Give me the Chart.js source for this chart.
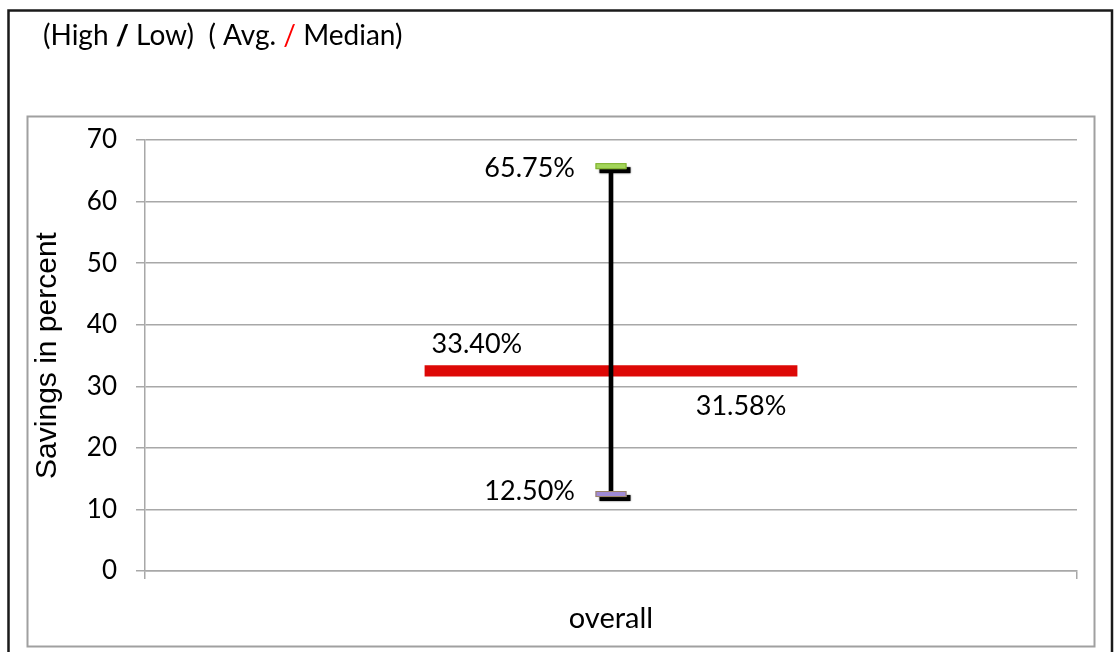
<!DOCTYPE html>
<html>
<head>
<meta charset="utf-8">
<script src="https://cdn.jsdelivr.net/npm/chart.js@4.4.1/dist/chart.umd.min.js"></script>
<style>
  html, body { margin: 0; padding: 0; background: #fff; }
  #wrap { position: relative; width: 1114px; height: 652px; }
</style>
</head>
<body>
<div id="wrap"><canvas id="chart" width="1114" height="652"></canvas></div>
<script>
const categories = ["overall"]
const highValues = [65.75]
const lowValues = [12.5]
const avgValues = [33.4]
const medianValues = [31.58]
const yTicks = [0, 10, 20, 30, 40, 50, 60, 70]

const FONT = "Lato"
const GRID = "#a8a8a8"

const fmt = (v) => v.toFixed(2) + "%"

// frame boxes and the two-colour heading
const framePlugin = {
  id: "frame",
  beforeDraw(chart) {
    const ctx = chart.ctx
    ctx.save()
    ctx.fillStyle = "#fff"
    ctx.fillRect(0, 0, chart.width, chart.height)
    ctx.strokeStyle = "#1a1a1a"
    ctx.lineWidth = 2.5
    ctx.strokeRect(8.5, 10.5, 1103.5, 700)
    ctx.strokeStyle = "#a0a0a0"
    ctx.lineWidth = 2
    ctx.strokeRect(27.5, 116.5, 1067, 530)

    const parts = [
      { t: "(High ", c: "#000", w: "normal" },
      { t: "/", c: "#000", w: "900" },
      { t: " Low)  ( Avg. ", c: "#000", w: "normal" },
      { t: "/", c: "#ff0000", w: "normal" },
      { t: " Median)", c: "#000", w: "normal" },
    ]
    let x = 43
    ctx.textBaseline = "alphabetic"
    ctx.textAlign = "left"
    parts.forEach((p) => {
      ctx.font = p.w + " 28px " + FONT
      ctx.fillStyle = p.c
      ctx.fillText(p.t, x, 45)
      x += ctx.measureText(p.t).width
    })
    ctx.restore()
  },
}

// high/low markers and the value labels
const markerPlugin = {
  id: "markers",
  afterDatasetsDraw(chart) {
    const ctx = chart.ctx
    const xs = chart.scales.x
    const ys = chart.scales.y
    const barMeta = chart.getDatasetMeta(1)
    ctx.save()
    categories.forEach((cat, i) => {
      const cx = xs.getPixelForValue(i)
      const yHigh = ys.getPixelForValue(highValues[i])
      const yLow = ys.getPixelForValue(lowValues[i])

      const drawMarker = (y, fill, edge) => {
        const w = 31, h = 6
        ctx.save()
        ctx.fillStyle = "#000"
        ctx.shadowColor = "rgba(0,0,0,0.6)"
        ctx.shadowBlur = 2
        ctx.fillRect(cx - w / 2 + 4, y - h / 2 + 4, w, h)
        ctx.restore()
        ctx.fillStyle = fill
        ctx.fillRect(cx - w / 2, y - h / 2, w, h)
        ctx.strokeStyle = edge
        ctx.lineWidth = 1
        ctx.strokeRect(cx - w / 2 + 0.5, y - h / 2 + 0.5, w - 1, h - 1)
      }
      drawMarker(yHigh, "#a3d55a", "#7fae2e")
      drawMarker(yLow, "#a08ad6", "#9c8463")

      ctx.font = "27px " + FONT
      ctx.fillStyle = "#000"
      ctx.textBaseline = "middle"
      ctx.textAlign = "right"
      ctx.fillText(fmt(highValues[i]), cx - 36, yHigh + 2)
      ctx.fillText(fmt(lowValues[i]), cx - 36, yLow - 3)

      const bar = barMeta.data[i]
      const left = bar.x - bar.width / 2
      const right = bar.x + bar.width / 2
      const yAvg = ys.getPixelForValue(avgValues[i])
      const yMed = ys.getPixelForValue(medianValues[i])
      ctx.textAlign = "left"
      ctx.fillText(fmt(avgValues[i]), left + 7, yAvg - 21)
      ctx.textAlign = "right"
      ctx.fillText(fmt(medianValues[i]), right - 11, yMed + 30)
    })
    ctx.restore()
  },
}

const ctx = document.getElementById("chart").getContext("2d")
new Chart(ctx, {
  type: "bar",
  data: {
    labels: categories,
    datasets: [
      {
        label: "High / Low",
        data: categories.map((c, i) => [lowValues[i], highValues[i]]),
        backgroundColor: "#000",
        barThickness: 4,
        grouped: false,
      },
      {
        label: "Avg. / Median",
        data: categories.map((c, i) => [medianValues[i], avgValues[i]]),
        backgroundColor: "#dd0806",
        barPercentage: 0.4,
        categoryPercentage: 1,
        grouped: false,
      },
    ],
  },
  options: {
    responsive: false,
    animation: false,
    layout: {
      padding: { top: 140, right: 37, left: 0, bottom: 0 },
    },
    plugins: {
      legend: { display: false },
      tooltip: { enabled: false },
    },
    scales: {
      x: {
        afterFit: (scale) => { scale.height = 81 },
        grid: {
          offset: true,
          drawOnChartArea: false,
          drawTicks: true,
          tickLength: 8,
          color: GRID,
          lineWidth: 1.5,
        },
        border: { color: GRID, width: 1.5 },
        ticks: {
          padding: 22,
          color: "#000",
          font: { family: FONT, size: 29 },
        },
      },
      y: {
        min: 0,
        max: 70,
        afterFit: (scale) => { scale.width = 145 },
        afterBuildTicks: (scale) => {
          scale.ticks = yTicks.map((v) => ({ value: v }))
        },
        grid: {
          color: GRID,
          lineWidth: 1.5,
          tickLength: 9,
        },
        border: { color: GRID, width: 1.5 },
        ticks: {
          padding: 19,
          color: "#000",
          font: { family: FONT, size: 26 },
        },
        title: {
          display: true,
          text: "Savings in percent",
          color: "#000",
          font: { family: "Liberation Sans", size: 30 },
          padding: { top: 30 },
        },
      },
    },
  },
  plugins: [framePlugin, markerPlugin],
})
</script>
</body>
</html>
